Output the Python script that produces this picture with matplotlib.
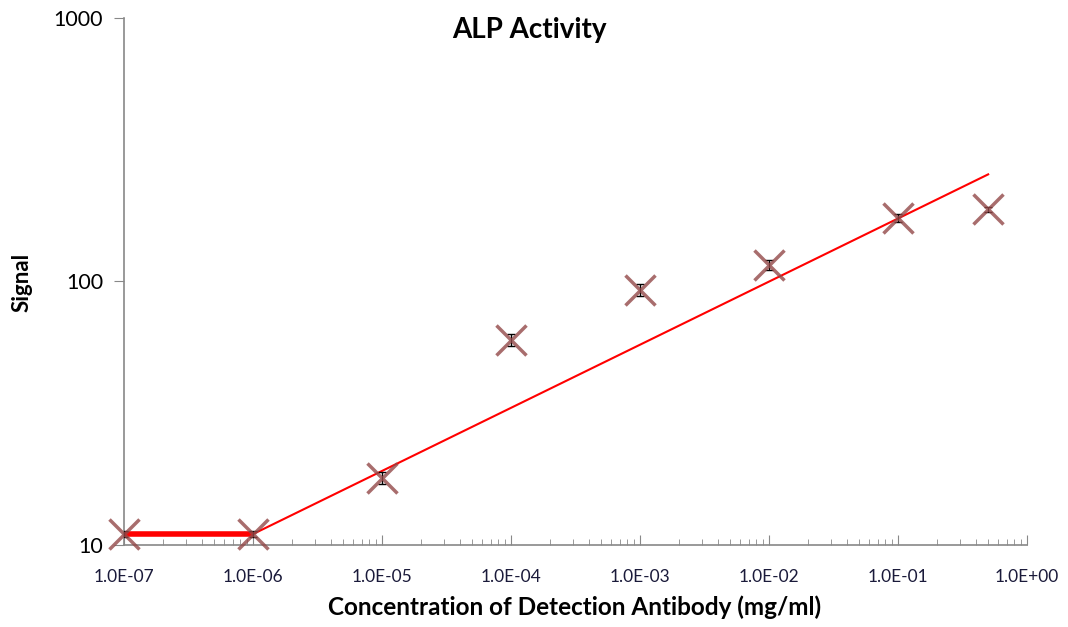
import matplotlib.pyplot as plt
from matplotlib.ticker import LogLocator, FixedLocator, NullFormatter, FuncFormatter

plt.rcParams['font.family'] = ['Lato', 'DejaVu Sans']

# measured data
conc = [1e-7, 1e-6, 1e-5, 1e-4, 1e-3, 1e-2, 1e-1, 0.5]
signal = [11, 11, 18, 60, 93, 116, 174, 188]
err = [0.3, 0.3, 1.0, 3.0, 5.0, 5.0, 6.0, 4.0]

# background (thick) and trend line
base_x = [1e-7, 1e-6]
base_y = [11, 11]
trend_x = [1e-6, 0.5]
trend_y = [11, 255]

x_ticks = [1e-7, 1e-6, 1e-5, 1e-4, 1e-3, 1e-2, 1e-1, 1]
y_ticks = [10, 100, 1000]

fig = plt.figure(figsize=(10.68, 6.27), dpi=100)
ax = fig.add_axes([0.1161, 0.1308, 0.8455, 0.8405])

ax.plot(base_x, base_y, color='red', linewidth=4, solid_capstyle='butt', zorder=2)
ax.plot(trend_x, trend_y, color='red', linewidth=1.5, zorder=2)
ax.errorbar(conc, signal, yerr=err, fmt='none', ecolor='black', elinewidth=1,
            capsize=3, capthick=1, zorder=3)
ax.plot(conc, signal, linestyle='none', marker='x', markersize=22, markeredgewidth=2.5,
        color='#934848', alpha=0.8, zorder=4, clip_on=False)

ax.set_xscale('log')
ax.set_yscale('log')
ax.set_xlim(1e-7, 1)
ax.set_ylim(10, 1000)

for s in ['top', 'right']:
    ax.spines[s].set_visible(False)
for s in ['left', 'bottom']:
    ax.spines[s].set_color('#888888')
    ax.spines[s].set_linewidth(1.2)

ax.xaxis.set_major_locator(FixedLocator(x_ticks))
ax.xaxis.set_minor_locator(LogLocator(base=10, subs=range(2, 10), numticks=20))
ax.xaxis.set_minor_formatter(NullFormatter())
ax.xaxis.set_major_formatter(FuncFormatter(lambda v, p: '%.1E' % v))
ax.tick_params(axis='x', which='major', direction='in', length=7, color='#888888',
               labelsize=12.5, pad=17, labelcolor='#1a1a3a')
ax.tick_params(axis='x', which='minor', direction='in', length=4, color='#888888')

ax.yaxis.set_major_locator(FixedLocator(y_ticks))
ax.yaxis.set_minor_locator(FixedLocator([]))
ax.yaxis.set_major_formatter(FuncFormatter(lambda v, p: '%d' % v))
ax.tick_params(axis='y', which='major', direction='out', length=7, color='#888888',
               labelsize=15.5, pad=8)

fig.text(0.496, 0.952, 'ALP Activity', ha='center', va='center', fontsize=20,
         fontweight='bold')
fig.text(0.538, 0.032, 'Concentration of Detection Antibody (mg/ml)', ha='center',
         va='center', fontsize=17.5, fontweight='bold')
fig.text(0.021, 0.55, 'Signal', rotation=90, ha='center', va='center',
         fontsize=16, fontweight='bold')

fig.savefig('out.png', dpi=100)
